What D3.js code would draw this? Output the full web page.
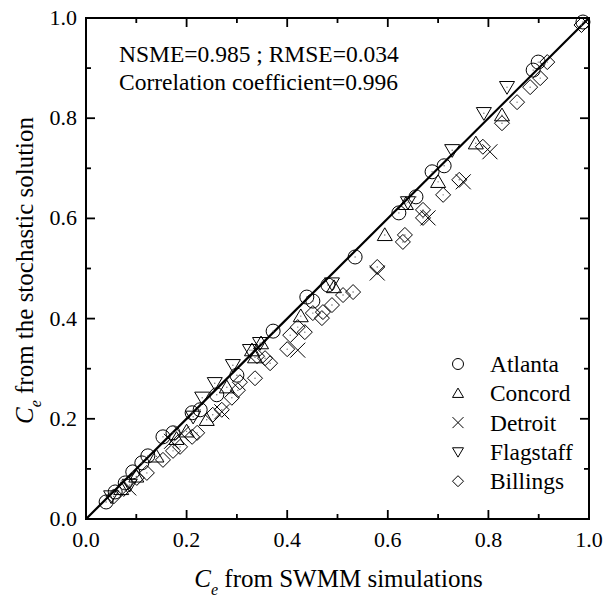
<!DOCTYPE html>
<html lang="en">
<head>
    <meta charset="UTF-8">
    <title>Ce scatter</title>
    <script src="https://d3js.org/d3.v7.min.js"></script>
    <style>
        body { margin: 0; background: #fff; }
    </style>
</head>
<body>
    <div id="chart"></div>
    <script>
        // values: [Ce SWMM, Ce stochastic]
        var atlanta = [[0.040,0.034],[0.058,0.054],[0.078,0.072],[0.093,0.094],[0.111,0.112],[0.123,0.126],
            [0.153,0.164],[0.173,0.172],[0.211,0.212],[0.227,0.218],[0.260,0.248],[0.300,0.287],
            [0.372,0.375],[0.439,0.443],[0.451,0.435],[0.481,0.467],[0.535,0.523],[0.622,0.611],
            [0.656,0.643],[0.688,0.693],[0.712,0.705],[0.889,0.896],[0.899,0.912],[0.988,0.992]];
        var concord = [[0.070,0.060],[0.100,0.085],[0.140,0.125],[0.180,0.160],[0.200,0.175],[0.240,0.198],
            [0.280,0.263],[0.330,0.337],[0.336,0.323],[0.348,0.351],[0.427,0.405],[0.493,0.463],
            [0.594,0.567],[0.636,0.629],[0.700,0.673],[0.775,0.750],[0.827,0.806]];
        var detroit = [[0.085,0.062],[0.170,0.155],[0.190,0.170],[0.270,0.214],[0.421,0.337],[0.579,0.491],
            [0.680,0.601],[0.750,0.673],[0.803,0.733]];
        var flagstaff = [[0.050,0.045],[0.087,0.068],[0.213,0.204],[0.231,0.242],[0.256,0.271],[0.292,0.307],
            [0.326,0.337],[0.346,0.351],[0.489,0.470],[0.640,0.632],[0.728,0.736],[0.791,0.810],[0.837,0.862]];
        var billings = [[0.055,0.045],[0.075,0.060],[0.101,0.082],[0.121,0.092],[0.153,0.118],[0.173,0.136],
            [0.187,0.144],[0.211,0.164],[0.221,0.172],[0.252,0.208],[0.270,0.218],[0.290,0.242],
            [0.302,0.257],[0.306,0.273],[0.336,0.281],[0.356,0.321],[0.366,0.311],[0.340,0.325],
            [0.400,0.339],[0.406,0.367],[0.421,0.383],[0.435,0.373],[0.451,0.411],[0.469,0.401],
            [0.471,0.413],[0.489,0.427],[0.511,0.447],[0.531,0.453],[0.579,0.503],[0.630,0.553],
            [0.634,0.567],[0.670,0.617],[0.670,0.601],[0.710,0.647],[0.742,0.677],[0.789,0.743],
            [0.827,0.790],[0.857,0.832],[0.883,0.862],[0.903,0.880],[0.917,0.912],[0.985,0.986]];
        var seriesNames = ['Atlanta', 'Concord', 'Detroit', 'Flagstaff', 'Billings'];
        var seriesShapes = ['circle', 'up', 'cross', 'down', 'diamond'];
        var tickValues = [0, 0.2, 0.4, 0.6, 0.8, 1.0];
        var minorTicks = [0.1, 0.3, 0.5, 0.7, 0.9];
        var stats = ['NSME=0.985 ; RMSE=0.034', 'Correlation coefficient=0.996'];

        var width = 604, height = 597;
        var margin = {left: 86, top: 18, right: 15, bottom: 78};
        var w = width - margin.left - margin.right,
            h = height - margin.top - margin.bottom;
        var serif = "'Liberation Serif', 'Times New Roman', Times, 'DejaVu Serif', serif";

        var svg = d3.select('#chart').append('svg')
            .attr('width', width)
            .attr('height', height)
            .attr('font-family', serif)
            .style('font-family', serif);
        var g = svg.append('g')
            .attr('transform', 'translate(' + margin.left + ',' + margin.top + ')');

        var x = d3.scaleLinear().domain([0, 1]).range([0, w]),
            y = d3.scaleLinear().domain([0, 1]).range([h, 0]);

        // marker paths, s = half size
        function shape(type, s) {
            if (type == 'circle') {
                return 'M' + s + ',0A' + s + ',' + s + ' 0 1,1 ' + (-s) + ',0A' + s + ',' + s + ' 0 1,1 ' + s + ',0Z';
            } else if (type == 'up') {
                return 'M0,' + (-s * 0.95) + 'L' + s + ',' + (s * 0.75) + 'L' + (-s) + ',' + (s * 0.75) + 'Z';
            } else if (type == 'down') {
                return 'M0,' + (s * 0.95) + 'L' + s + ',' + (-s * 0.75) + 'L' + (-s) + ',' + (-s * 0.75) + 'Z';
            } else if (type == 'diamond') {
                return 'M0,' + (-s) + 'L' + s + ',0L0,' + s + 'L' + (-s) + ',0Z';
            }
            return 'M' + (-s) + ',' + (-s) + 'L' + s + ',' + s + 'M' + (-s) + ',' + s + 'L' + s + ',' + (-s);
        }

        // 1:1 line
        g.append('line')
            .attr('x1', x(0)).attr('y1', y(0))
            .attr('x2', x(1)).attr('y2', y(1))
            .attr('stroke', '#000')
            .attr('stroke-width', 2.2);

        var allSeries = [atlanta, concord, detroit, flagstaff, billings];
        allSeries.forEach(function (data, i) {
            var type = seriesShapes[i];
            var size = type == 'circle' ? 7 : 7.5;
            var pts = g.append('g').selectAll('g')
                .data(data)
                .enter()
                .append('g')
                .attr('transform', function (d) { return 'translate(' + x(d[0]) + ',' + y(d[1]) + ')'; });
            pts.append('path')
                .attr('d', shape(type, size))
                .attr('fill', 'none')
                .attr('stroke', '#000')
                .attr('stroke-width', 1);
            if (type != 'cross') {
                pts.append('circle')
                    .attr('r', 0.7)
                    .attr('fill', '#666');
            }
        });

        // frame and ticks
        g.append('rect')
            .attr('width', w).attr('height', h)
            .attr('fill', 'none')
            .attr('stroke', '#000')
            .attr('stroke-width', 2);

        var ticks = g.append('g').attr('stroke', '#000').attr('stroke-width', 1.8);
        function addTicks(vals, len) {
            vals.forEach(function (v) {
                ticks.append('line').attr('x1', x(v)).attr('x2', x(v)).attr('y1', h).attr('y2', h - len);
                ticks.append('line').attr('x1', x(v)).attr('x2', x(v)).attr('y1', 0).attr('y2', len);
                ticks.append('line').attr('y1', y(v)).attr('y2', y(v)).attr('x1', 0).attr('x2', len);
                ticks.append('line').attr('y1', y(v)).attr('y2', y(v)).attr('x1', w).attr('x2', w - len);
            });
        }
        addTicks(tickValues.slice(1, 5), 9);
        addTicks(minorTicks, 5);

        g.append('g').selectAll('text')
            .data(tickValues)
            .enter()
            .append('text')
            .attr('x', function (d) { return x(d); })
            .attr('y', h + 28)
            .attr('text-anchor', 'middle')
            .attr('font-size', '22px')
            .text(function (d) { return d.toFixed(1); });

        g.append('g').selectAll('text')
            .data(tickValues)
            .enter()
            .append('text')
            .attr('x', -9)
            .attr('y', function (d) { return y(d) + 7; })
            .attr('text-anchor', 'end')
            .attr('font-size', '22px')
            .text(function (d) { return d.toFixed(1); });

        // axis titles
        var xt = g.append('text')
            .attr('x', w / 2 + 1)
            .attr('y', h + 68)
            .attr('text-anchor', 'middle')
            .attr('font-size', '25px');
        xt.append('tspan').attr('font-style', 'italic').text('C');
        xt.append('tspan').attr('font-style', 'italic').attr('font-size', '16px').attr('dy', 8).text('e');
        xt.append('tspan').attr('dy', -8).text(' from SWMM simulations');

        var yt = g.append('text')
            .attr('transform', 'translate(' + (-53) + ',' + (h / 2 + 2) + ') rotate(-90)')
            .attr('text-anchor', 'middle')
            .attr('font-size', '25px');
        yt.append('tspan').attr('font-style', 'italic').text('C');
        yt.append('tspan').attr('font-style', 'italic').attr('font-size', '16px').attr('dy', 8).text('e');
        yt.append('tspan').attr('dy', -8).text(' from the stochastic solution');

        // stats text
        g.append('g').selectAll('text')
            .data(stats)
            .enter()
            .append('text')
            .attr('x', 33)
            .attr('y', function (d, i) { return 44 + i * 28; })
            .attr('font-size', '23.5px')
            .text(function (d) { return d; });

        // legend
        var legend = g.append('g')
            .attr('transform', 'translate(' + (458 - margin.left) + ',' + (364 - margin.top) + ')');
        seriesNames.forEach(function (name, i) {
            legend.append('path')
                .attr('transform', 'translate(0,' + (i * 29.3) + ')')
                .attr('d', shape(seriesShapes[i], 5.5))
                .attr('fill', 'none')
                .attr('stroke', '#000')
                .attr('stroke-width', 1);
            legend.append('text')
                .attr('x', 32)
                .attr('y', i * 29.3 + 8)
                .attr('font-size', '23.4px')
                .text(name);
        });
    </script>
</body>
</html>
